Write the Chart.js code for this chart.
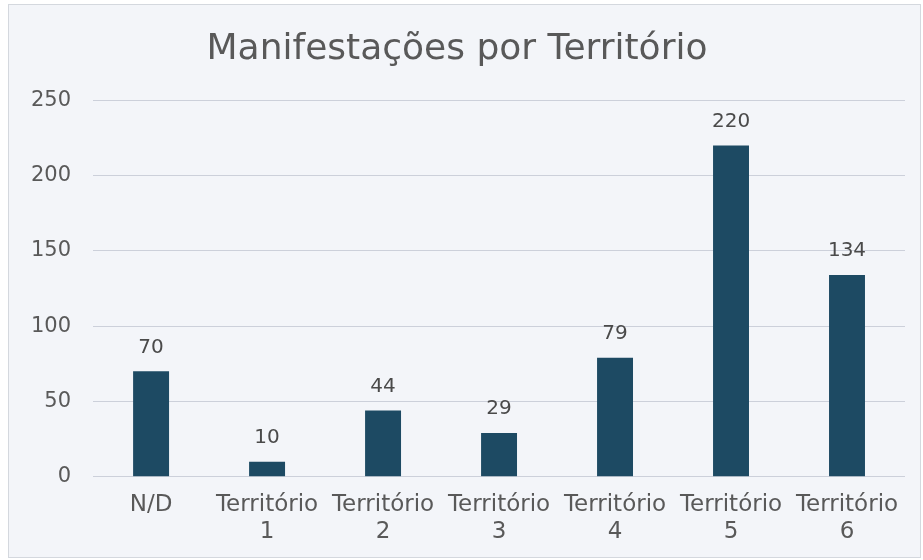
<!DOCTYPE html>
<html lang="pt">
<head>
  <meta charset="UTF-8" />
  <title>Manifestações por Território</title>
  <script src="https://cdn.jsdelivr.net/npm/chart.js"></script>
  <style>
    body { margin: 0; background: #ffffff; }
    .wrap { position: absolute; left: 8px; top: 4px; width: 913px; height: 554px;
            background: #f3f5f9; border: 1px solid #d4d8de; box-sizing: border-box; }
  </style>
</head>
<body>
  <div class="wrap">
    <canvas id="grafico"></canvas>
  </div>

<script>
  // dados
  const categorias = ["N/D", ["Território", "1"], ["Território", "2"], ["Território", "3"],
                      ["Território", "4"], ["Território", "5"], ["Território", "6"]];
  const manifestacoes = [70, 10, 44, 29, 79, 220, 134];
  const ticksY = [0, 50, 100, 150, 200, 250];

  const fonte = "'DejaVu Sans', Verdana, sans-serif";

  // rótulos em cima das barras
  const rotulos = {
    id: 'rotulos',
    afterDatasetsDraw(chart) {
      const ctx = chart.ctx;
      const meta = chart.getDatasetMeta(0);
      ctx.save();
      ctx.font = "20px " + fonte;
      ctx.fillStyle = "#4a4a4a";
      ctx.textAlign = "center";
      ctx.textBaseline = "bottom";
      meta.data.forEach((bar, i) => {
        ctx.fillText(manifestacoes[i], bar.x, bar.y - 14);
      });
      ctx.restore();
    }
  };

  new Chart(document.getElementById("grafico"), {
    type: 'bar',
    data: {
      labels: categorias,
      datasets: [{
        label: 'Manifestações',
        data: manifestacoes,
        backgroundColor: '#1d4a63',
        categoryPercentage: 1,
        barPercentage: 0.31
      }]
    },
    options: {
      responsive: true,
      maintainAspectRatio: false,
      animation: false,
      layout: { padding: { left: 0, right: 15, top: 23, bottom: 5 } },
      plugins: {
        legend: { display: false },
        tooltip: { enabled: false },
        title: {
          display: true,
          text: 'Manifestações por Território',
          color: '#595959',
          font: { family: fonte, size: 36, weight: 'normal' },
          padding: { top: 0, bottom: 29 }
        }
      },
      scales: {
        x: {
          grid: { display: false },
          border: { display: false },
          ticks: { color: '#595959', font: { family: fonte, size: 23 }, maxRotation: 0, padding: 6 }
        },
        y: {
          min: 0,
          max: 250,
          afterBuildTicks: axis => { axis.ticks = ticksY.map(v => ({ value: v })); },
          grid: { color: '#ccd0da', drawTicks: false },
          border: { display: false },
          ticks: { color: '#595959', font: { family: fonte, size: 21 }, padding: 22 }
        }
      }
    },
    plugins: [rotulos]
  });
</script>
</body>
</html>
